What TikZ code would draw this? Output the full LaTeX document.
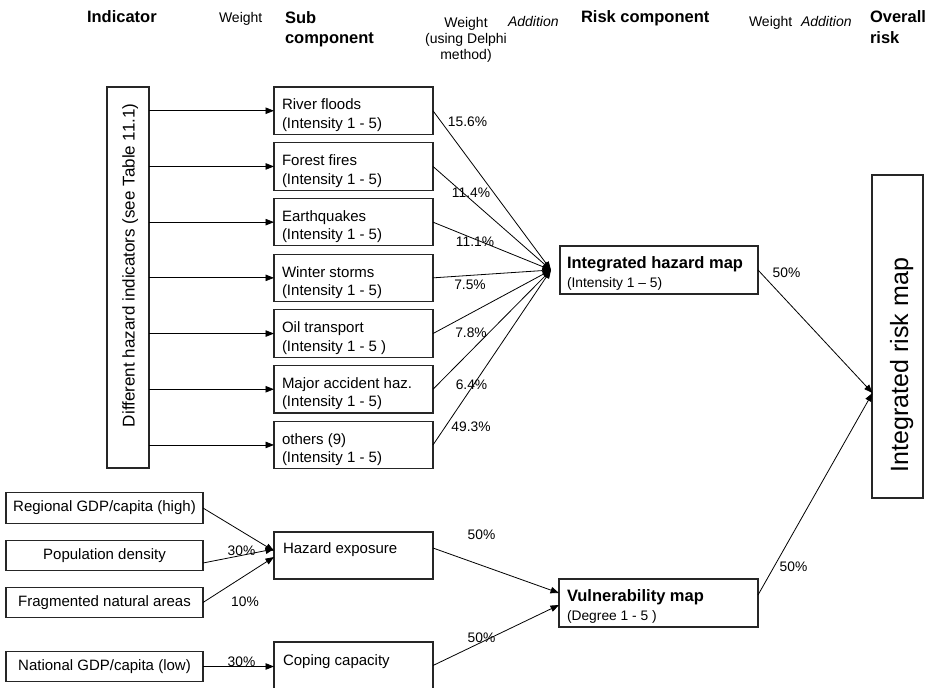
\documentclass[tikz,border=0pt]{standalone}
\usepackage{fontspec}
\setmainfont{Liberation Sans}
\usetikzlibrary{arrows.meta}
\begin{document}
\begin{tikzpicture}[x=1pt,y=-1pt,
  every node/.style={inner sep=0pt, outer sep=0pt},
  frame/.style={draw=black!85, line width=1.1pt},
  bx/.style={frame, minimum width=159pt, minimum height=47.5pt},
  lbx/.style={frame, minimum width=197pt, minimum height=30.5pt, font=\fontsize{15}{18}\selectfont},
  rmap/.style={frame, minimum width=198pt, minimum height=48pt},
  btxt/.style={anchor=north west, align=left, font=\fontsize{15}{18.5}\selectfont},
  pct/.style={font=\fontsize{13.8}{16}\selectfont},
  hdb/.style={font=\bfseries\fontsize{16.5}{20}\selectfont},
  hdn/.style={font=\fontsize{14}{16}\selectfont},
  con/.style={line width=0.8pt, black},
  arr/.style={con, -{Triangle[length=8.5pt,width=6.5pt]}},
]
\useasboundingbox (0,0) rectangle (932,688);

% ---------- headers ----------
\node[hdb, anchor=base west] (hind) at (87,23) {Indicator};
\node[hdn, anchor=base west] (hw1) at (219,22) {Weight};
\node[hdb, anchor=north west, align=left] (hsub) at (285,9) {\strut Sub\\component};
\node[hdn, anchor=north, align=center] (hw2) at (466,15.8) {\strut Weight\\(using Delphi\\method)};
\node[hdn, anchor=base west] (ha1) at (508,27) {\itshape Addition};
\node[hdb, anchor=base west] (hrc) at (581,23) {Risk component};
\node[hdn, anchor=base west] (hw3) at (749,27) {Weight};
\node[hdn, anchor=base west] (ha2) at (801,27) {\itshape Addition};
\node[anchor=north west, align=left, font=\bfseries\fontsize{16.5}{21}\selectfont] (hov) at (870,7.3) {\strut Overall\\risk};

% ---------- hazard indicators ----------
\node[frame, minimum width=42pt, minimum height=381pt] (hz) at (128,277.5) {};
\node[rotate=90, anchor=base west, font=\fontsize{17}{20}\selectfont] (hzt) at (134.5,427) {Different hazard indicators (see Table 11.1)};

% ---------- sub components (hazards) ----------
\node[bx] (rf) at (353.5,110.75) {};
\node[btxt] (rft) at ([xshift=8pt,yshift=-10pt]rf.north west) {\strut River floods\\(Intensity 1 - 5)};
\node[bx] (ff) at (353.5,166.45) {};
\node[btxt] (fft) at ([xshift=8pt,yshift=-10pt]ff.north west) {\strut Forest fires\\(Intensity 1 - 5)};
\node[bx] (eq) at (353.5,222.15) {};
\node[btxt] (eqt) at ([xshift=8pt,yshift=-10pt]eq.north west) {\strut Earthquakes\\(Intensity 1 - 5)};
\node[bx] (ws) at (353.5,277.85) {};
\node[btxt] (wst) at ([xshift=8pt,yshift=-10pt]ws.north west) {\strut Winter storms\\(Intensity 1 - 5)};
\node[bx] (ot) at (353.5,333.55) {};
\node[btxt] (ott) at ([xshift=8pt,yshift=-10pt]ot.north west) {\strut Oil transport\\(Intensity 1 - 5 )};
\node[bx] (ma) at (353.5,389.25) {};
\node[btxt] (mat) at ([xshift=8pt,yshift=-10pt]ma.north west) {\strut Major accident haz.\\(Intensity 1 - 5)};
\node[bx] (oth) at (353.5,444.95) {};
\node[btxt] (otht) at ([xshift=8pt,yshift=-10pt]oth.north west) {\strut others (9)\\(Intensity 1 - 5)};

\foreach \n in {rf,ff,eq,ws,ot,ma,oth}{
  \draw[arr] (hz.east |- \n) -- (\n.west);
}

% ---------- integrated hazard map ----------
\node[rmap] (hm) at (659,270) {};
\node[btxt] (hmt) at ([xshift=7pt,yshift=-10pt]hm.north west) {\strut{\bfseries\fontsize{16.5}{18.5}\selectfont Integrated hazard map}\\{\fontsize{13.8}{18.5}\selectfont (Intensity 1 – 5)}};
\coordinate (hin) at (551,270);
\foreach \n in {rf,ff,eq,ws,ot,ma,oth}{
  \draw[arr] (\n.east) -- (hin);
}
\node[pct] (p1) at (467.5,122) {15.6\%};
\node[pct] (p2) at (471,193) {11.4\%};
\node[pct] (p3) at (475,242) {11.1\%};
\node[pct] (p4) at (470,285) {7.5\%};
\node[pct] (p5) at (471,333) {7.8\%};
\node[pct] (p6) at (471.5,385) {6.4\%};
\node[pct] (p7) at (471,427) {49.3\%};

% ---------- integrated risk map ----------
\node[frame, minimum width=51pt, minimum height=323pt] (rm) at (897.5,336.5) {};
\node[rotate=90, anchor=base west, font=\fontsize{25}{30}\selectfont] (rmt) at (908,472) {Integrated risk map};
\coordinate (rin) at (872.5,393);

% ---------- vulnerability ----------
\node[rmap, minimum width=199pt] (vm) at (658.5,603) {};
\node[btxt] (vmt) at ([xshift=8pt,yshift=-10pt]vm.north west) {\strut{\bfseries\fontsize{16.5}{18.5}\selectfont Vulnerability map}\\{\fontsize{13.8}{18.5}\selectfont (Degree 1 - 5 )}};

\draw[arr] (hm.east) -- (rin);
\draw[arr] ([yshift=8pt]vm.east) -- (rin);
\node[pct] (p8) at (786.5,273) {50\%};
\node[pct] (p9) at (793.5,567) {50\%};

% ---------- vulnerability indicators ----------
\node[lbx] (rg) at (104.5,508) {Regional GDP/capita (high)};
\node[lbx] (pd) at (104.5,555.5) {Population density};
\node[lbx] (fn) at (104.5,602.5) {Fragmented natural areas};
\node[lbx] (ng) at (104.5,666.5) {National GDP/capita (low)};

\node[bx, minimum height=47pt] (he) at (353.5,555.5) {};
\node[btxt] (het) at ([xshift=9pt,yshift=-9pt]he.north west) {\strut Hazard exposure};
\node[bx, minimum height=47pt] (cc) at (353.5,665.5) {};
\node[btxt] (cct) at ([xshift=9pt,yshift=-11pt]cc.north west) {\strut Coping capacity};

\coordinate (hea) at (274,551);
\coordinate (heb) at (274,549);
\coordinate (hec) at (274,557);
\draw[arr] (rg.east) -- (hea);
\draw[arr] ([yshift=-7.5pt]pd.east) -- (heb);
\draw[arr] (fn.east) -- (hec);
\draw[arr] (ng.east) -- (ng.east -| cc.west);
\draw[arr] ([yshift=7.5pt]he.east) -- ([yshift=10pt]vm.west);
\draw[arr] (cc.east) -- ([yshift=-2pt]vm.west);

\node[pct] (p10) at (241.5,551) {30\%};
\node[pct] (p11) at (245,602) {10\%};
\node[pct] (p12) at (241.5,662) {30\%};
\node[pct] (p13) at (481.5,535) {50\%};
\node[pct] (p14) at (481.5,638) {50\%};
\end{tikzpicture}
\end{document}
